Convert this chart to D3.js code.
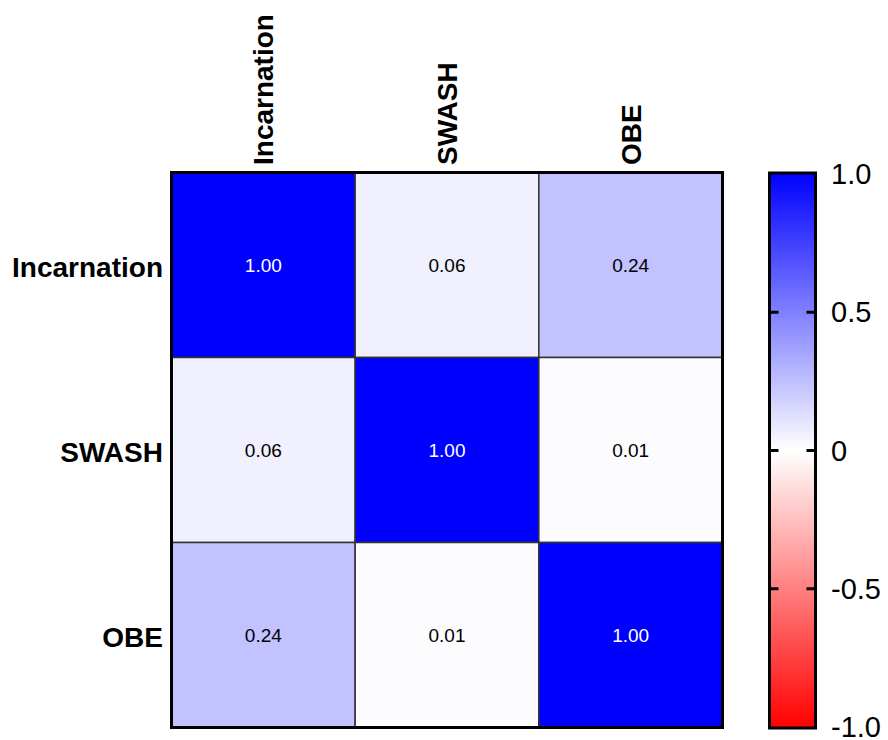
<!DOCTYPE html>
<html><head><meta charset="utf-8">
<script src="https://cdn.jsdelivr.net/npm/d3@7"></script>
<style>body{margin:0;background:#fff;font-family:"Liberation Sans",Arial,sans-serif;}</style>
</head><body>
<svg id="c" width="888" height="740"></svg>
<script>
const categories = ["Incarnation", "SWASH", "OBE"];
const matrix = [
  [1.00, 0.06, 0.24],
  [0.06, 1.00, 0.01],
  [0.24, 0.01, 1.00]
];
const colorTicks = [1.0, 0.5, 0, -0.5, -1.0];
const colorTickLabels = ["1.0", "0.5", "0", "-0.5", "-1.0"];

const svg = d3.select("#c");
const L = 171.5, T = 172.5, W = 551, H = 555;
const x = d3.scaleBand().domain(categories).range([L, L + W]);
const y = d3.scaleBand().domain(categories).range([T, T + H]);
const color = d3.scaleLinear().domain([-1, 0, 1]).range(["#ff0000", "#ffffff", "#0000ff"]);

const cells = [];
matrix.forEach((row, i) => row.forEach((v, j) => cells.push({r: categories[i], c: categories[j], v})));

svg.selectAll("rect.cell").data(cells).enter().append("rect")
  .attr("class", "cell")
  .attr("x", d => x(d.c)).attr("y", d => y(d.r))
  .attr("width", x.bandwidth()).attr("height", y.bandwidth())
  .attr("fill", d => color(d.v))
  .attr("stroke", "#333").attr("stroke-width", 1.5);

svg.selectAll("text.val").data(cells).enter().append("text")
  .attr("x", d => x(d.c) + x.bandwidth() / 2)
  .attr("y", d => y(d.r) + y.bandwidth() / 2)
  .attr("text-anchor", "middle").attr("dominant-baseline", "central")
  .attr("font-size", 19)
  .attr("fill", d => d.v > 0.6 ? "#fff" : "#000")
  .text(d => d.v.toFixed(2));

svg.append("rect").attr("x", L).attr("y", T).attr("width", W).attr("height", H)
  .attr("fill", "none").attr("stroke", "#000").attr("stroke-width", 3);

// row labels
svg.selectAll("text.row").data(categories).enter().append("text")
  .attr("x", 163).attr("y", d => y(d) + y.bandwidth() / 2 + 2)
  .attr("text-anchor", "end").attr("dominant-baseline", "central")
  .attr("font-size", 28).attr("font-weight", "bold").text(d => d);

// column labels
svg.selectAll("text.col").data(categories).enter().append("text")
  .attr("transform", d => `translate(${x(d) + x.bandwidth() / 2 + 10},165) rotate(-90)`)
  .attr("text-anchor", "start")
  .attr("font-size", 28).attr("font-weight", "bold").text(d => d);

// colorbar
const CBx = 769.5, CBw = 46;
const cy = d3.scaleLinear().domain([1, -1]).range([174, 727]);
const defs = svg.append("defs");
const grad = defs.append("linearGradient").attr("id", "g").attr("x1", 0).attr("y1", 0).attr("x2", 0).attr("y2", 1);
[1, 0, -1].forEach(v => grad.append("stop").attr("offset", (1 - v) / 2).attr("stop-color", color(v)));
svg.append("rect").attr("x", CBx).attr("y", cy(1) - 1).attr("width", CBw).attr("height", cy(-1) - cy(1) + 2)
  .attr("fill", "url(#g)").attr("stroke", "#000").attr("stroke-width", 3);

const ticksG = svg.selectAll("g.tk").data(colorTicks).enter().append("g");
ticksG.filter(d => d !== 1 && d !== -1).each(function (d) {
  const g = d3.select(this);
  g.append("line").attr("x1", CBx).attr("x2", CBx + 9).attr("y1", cy(d)).attr("y2", cy(d)).attr("stroke", "#000").attr("stroke-width", 3);
  g.append("line").attr("x1", CBx + CBw - 9).attr("x2", CBx + CBw).attr("y1", cy(d)).attr("y2", cy(d)).attr("stroke", "#000").attr("stroke-width", 3);
});
ticksG.append("text").attr("x", 831).attr("y", d => cy(d))
  .attr("dominant-baseline", "central").attr("font-size", 29)
  .text((d, i) => colorTickLabels[i]);
</script>
</body></html>
